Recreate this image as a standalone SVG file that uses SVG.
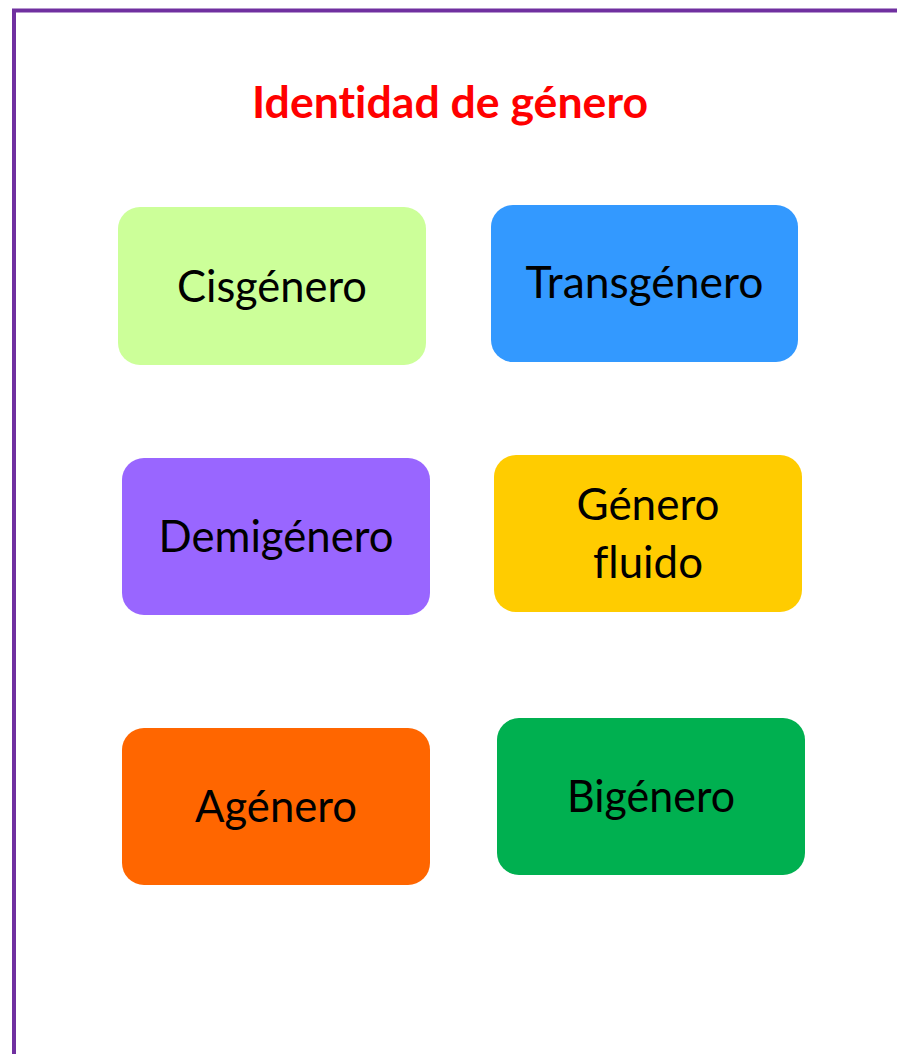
<svg xmlns="http://www.w3.org/2000/svg" width="897" height="1054" viewBox="0 0 897 1054">
<style>
.box{stroke:none}
.lbl{font-family:Lato,"Open Sans","Liberation Sans",sans-serif;font-size:44px;fill:#000;text-anchor:middle;font-variant-ligatures:none}
.title{font-family:Lato,"Open Sans","Liberation Sans",sans-serif;font-size:44px;font-weight:bold;fill:#FF0000;text-anchor:middle;font-variant-ligatures:none}
</style>
<rect width="897" height="1054" fill="#fff"/>
<g id="frame">
<path d="M14 1060 V10.5 H905" fill="none" stroke="#7030A0" stroke-width="4"/>
</g>
<g id="title">
<text class="title" x="450" y="118" textLength="396" lengthAdjust="spacingAndGlyphs">Identidad de género</text>
</g>
<g id="cisgenero">
<rect class="box" x="118" y="207" width="308" height="158" rx="22" fill="#CCFF99"/>
<text class="lbl" x="272" y="302" textLength="190" lengthAdjust="spacingAndGlyphs">Cisgénero</text>
</g>
<g id="transgenero">
<rect class="box" x="491" y="205" width="307" height="157" rx="22" fill="#3399FF"/>
<text class="lbl" x="644.5" y="298" textLength="238" lengthAdjust="spacingAndGlyphs">Transgénero</text>
</g>
<g id="demigenero">
<rect class="box" x="122" y="458" width="308" height="157" rx="22" fill="#9966FF"/>
<text class="lbl" x="276" y="552" textLength="235" lengthAdjust="spacingAndGlyphs">Demigénero</text>
</g>
<g id="genero-fluido">
<rect class="box" x="494" y="455" width="308" height="157" rx="22" fill="#FFCC00"/>
<text class="lbl" x="648" y="520" textLength="143" lengthAdjust="spacingAndGlyphs">Género</text>
<text class="lbl" x="648" y="578" textLength="110" lengthAdjust="spacingAndGlyphs">fluido</text>
</g>
<g id="agenero">
<rect class="box" x="122" y="728" width="308" height="157" rx="22" fill="#FF6600"/>
<text class="lbl" x="276" y="822" textLength="162" lengthAdjust="spacingAndGlyphs">Agénero</text>
</g>
<g id="bigenero">
<rect class="box" x="497" y="718" width="308" height="157" rx="22" fill="#00B050"/>
<text class="lbl" x="651" y="812" textLength="168" lengthAdjust="spacingAndGlyphs">Bigénero</text>
</g>
<g id="connectors"/>
</svg>
